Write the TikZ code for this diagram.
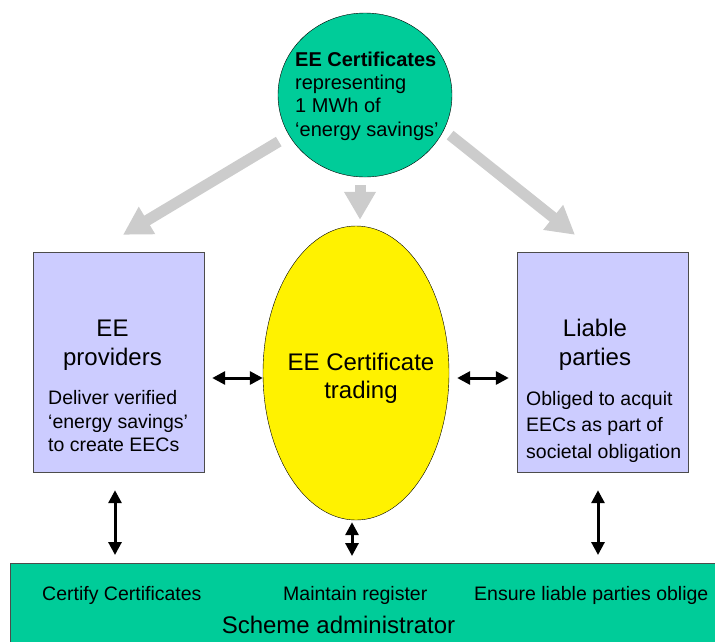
\documentclass[tikz,border=0pt]{standalone}
\usepackage{fontspec}
\setmainfont{Liberation Sans}
\usetikzlibrary{arrows.meta,shapes.geometric}
\definecolor{certgreen}{RGB}{0,204,153}
\definecolor{partyblue}{RGB}{204,204,255}
\definecolor{feedgray}{RGB}{204,204,204}

\begin{document}
\begin{tikzpicture}[x=1pt,y=-1pt,
  party/.style={rectangle,draw=black!70,fill=partyblue,minimum width=171pt,minimum height=220pt},
  feed/.style={draw=feedgray,line width=11pt,-{Triangle[length=28pt,width=30pt]}},
  link/.style={line width=3pt,{Triangle[length=13pt,width=13pt]}-{Triangle[length=13pt,width=13pt]}},
  txt/.style={inner sep=0pt}]
\useasboundingbox (0,0) rectangle (715,641);
\clip (0,0) rectangle (715,641);

\node [ellipse,draw,fill=certgreen,minimum width=174pt,minimum height=164pt] (eec) at (365,95) {};
\node [txt,anchor=west,align=left,font=\fontsize{20}{23.3}\selectfont] (eectext) at (295,96)
  {\textbf{EE Certificates}\\representing\\1 MWh of\\‘energy savings’};

\node [ellipse,draw,fill=yellow,minimum width=186pt,minimum height=294pt] (trade) at (356,373) {};
\node [txt,align=center,font=\fontsize{24}{28}\selectfont] (tradetext) at (361,378) {EE Certificate\\trading};

\node [party] (prov) at (118.5,362) {};
\node [txt,align=center,font=\fontsize{24}{29}\selectfont] (provtitle) at (112.5,345) {EE\\providers};
\node [txt,anchor=west,align=left,font=\fontsize{19.5}{23.5}\selectfont] (provtext) at (48,421.5)
  {Deliver verified\\‘energy savings’\\to create EECs};

\node [party] (liable) at (602.5,362) {};
\node [txt,align=center,font=\fontsize{24}{29}\selectfont] (liabletitle) at (595,345) {Liable\\parties};
\node [txt,anchor=west,align=left,font=\fontsize{19.5}{26.5}\selectfont] (liabletext) at (526,426.5)
  {Obliged to acquit\\EECs as part of\\societal obligation};

\node [rectangle,draw=black!70,fill=certgreen,minimum width=720pt,minimum height=90pt,anchor=north west] (admin) at (10,563) {};
\node [txt,anchor=base west,font=\fontsize{19.5}{23}\selectfont] (certify) at (42,600) {Certify Certificates};
\node [txt,anchor=base west,font=\fontsize{19.5}{23}\selectfont] (register) at (283,600) {Maintain register};
\node [txt,anchor=base west,font=\fontsize{19.5}{23}\selectfont] (ensure) at (474,600) {Ensure liable parties oblige};
\node [txt,anchor=base,font=\fontsize{24}{28}\selectfont] (admintitle) at (338.5,633) {Scheme administrator};

\draw [feed,shorten <=12pt] (eec.208) -- ([shift={(4.5pt,17pt)}]prov.north);
\draw [feed,shorten <=8pt] ([xshift=-5pt]eec.south) -- ([xshift=-5pt,yshift=6pt]eec.south |- trade.north);
\draw [feed,shorten <=8pt] (eec.-24) -- ([shift={(-27.5pt,17pt)}]liable.north);

\draw [link] ([xshift=8pt,yshift=-16pt]prov.east) -- ([yshift=-16pt]prov.east -| trade.west);
\draw [link] ([xshift=8pt,yshift=-16pt]trade.east |- liable.west) -- ([xshift=-8pt,yshift=-16pt]liable.west);
\draw [link] ([xshift=-3.5pt,yshift=-18pt]prov.south) -- ([xshift=-3.5pt,yshift=8pt]prov.south |- admin.north);
\draw [link] ([xshift=-4pt,yshift=-2pt]trade.south) -- ([xshift=-4pt,yshift=7pt]trade.south |- admin.north);
\draw [link] ([xshift=-4.5pt,yshift=-18pt]liable.south) -- ([xshift=-4.5pt,yshift=8pt]liable.south |- admin.north);
\end{tikzpicture}
\end{document}
